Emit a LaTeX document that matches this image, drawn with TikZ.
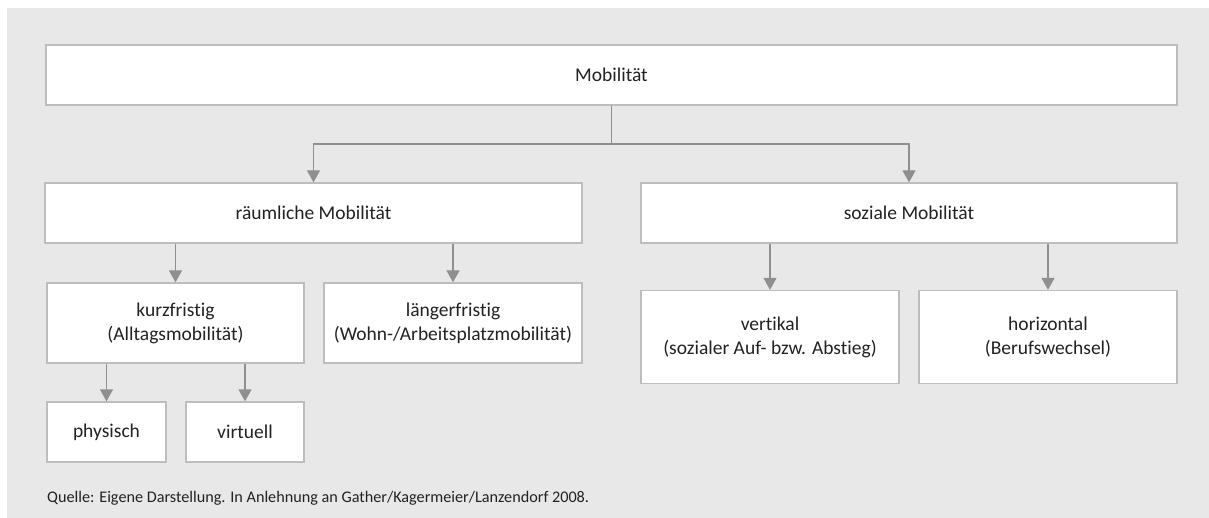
\documentclass[tikz,border=0pt]{standalone}
\usepackage{fontspec}
\setmainfont[Ligatures={NoCommon}]{Carlito}
\usetikzlibrary{arrows.meta}
\definecolor{bggray}{HTML}{E8E8E8}
\definecolor{boxline}{HTML}{BDBDBD}
\definecolor{arrgray}{HTML}{8F8F8F}
\definecolor{txt}{HTML}{222222}
\begin{document}
\begin{tikzpicture}[x=1pt,y=-1pt,
  box/.style={draw=boxline, fill=white, line width=1.3pt, inner sep=0pt, align=center,
    text=txt, font=\fontsize{19.5}{24}\selectfont},
  conn/.style={draw=arrgray, line width=1.3pt},
  arr/.style={conn, -{Triangle[width=13pt,length=12pt]}}]
\useasboundingbox (0,0) rectangle (1209,518);
\fill[bggray] (7,8) rectangle (1209,518);

\node[box, minimum width=1131pt, minimum height=60pt] (mob) at (611.5,75) {Mobilität};
\node[box, minimum width=537pt, minimum height=60pt] (raum) at (313.5,213) {räumliche Mobilität};
\node[box, minimum width=536pt, minimum height=60pt] (soz) at (909,213) {soziale Mobilität};
\node[box, minimum width=257pt, minimum height=80pt] (kurz) at (175.5,323) {kurzfristig\\(Alltagsmobilität)};
\node[box, minimum width=258pt, minimum height=80pt] (lang) at (453,323) {längerfristig\\(Wohn-/Arbeitsplatzmobilität)};
\node[box, minimum width=258pt, minimum height=93pt] (vert) at (770,337) {vertikal\\(sozialer Auf- bzw. Abstieg)};
\node[box, minimum width=258pt, minimum height=93pt] (hori) at (1048,337) {horizontal\\(Berufswechsel)};
\node[box, minimum width=119pt, minimum height=60pt] (phys) at (106.5,432) {physisch};
\node[box, minimum width=118pt, minimum height=60pt] (virt) at (245,432) {virtuell};

\node[anchor=west, inner sep=0pt, text=txt, font=\fontsize{16.2}{19}\selectfont] (src) at (47,498)
  {Quelle: Eigene Darstellung. In Anlehnung an Gather/Kagermeier/Lanzendorf 2008.};

\coordinate (j) at (611.5,144);
\draw[conn] (mob.south) -- (j);
\draw[arr] (j) -| (raum.north);
\draw[arr] (j) -| (soz.north);
\draw[arr] (kurz.north |- raum.south) -- (kurz.north);
\draw[arr] (lang.north |- raum.south) -- (lang.north);
\draw[arr] (vert.north |- soz.south) -- (vert.north);
\draw[arr] (hori.north |- soz.south) -- (hori.north);
\draw[arr] (phys.north |- kurz.south) -- (phys.north);
\draw[arr] (virt.north |- kurz.south) -- (virt.north);
\end{tikzpicture}
\end{document}
